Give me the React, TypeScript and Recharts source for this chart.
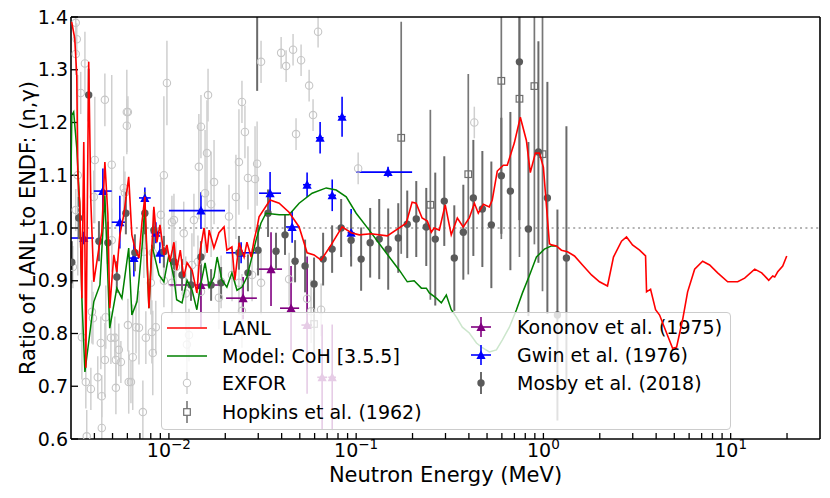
import React from 'react';
import { ScatterChart, Scatter, XAxis, YAxis, ErrorBar, ReferenceLine, Label } from 'recharts';

// energies in MeV, ratio LANL / ENDF
type Pt = [number, number];
type ErrPt = [number, number, number];
type CrossPt = [number, number, number, number, number];

const lanl: Pt[] = [
  [0.003, 1.39], [0.00303, 1.389], [0.00314, 1.36], [0.00322, 1.29], [0.00326, 1.106], [0.0033, 1.068],
  [0.00334, 1.049], [0.00343, 0.867], [0.00351, 1.163], [0.00356, 0.962], [0.0036, 0.735], [0.00373, 1.315],
  [0.00383, 1.049], [0.00397, 0.898], [0.00423, 0.962], [0.00438, 0.992], [0.00455, 1.125], [0.00472, 1.025],
  [0.00483, 0.848], [0.00508, 0.949], [0.00527, 0.917], [0.00547, 0.987], [0.00574, 1.025], [0.0061, 1.097],
  [0.00634, 0.987], [0.00658, 0.962], [0.00692, 0.943], [0.00718, 1.011], [0.00744, 1.059], [0.00782, 0.848],
  [0.00831, 1.04], [0.00863, 0.973], [0.00896, 1.006], [0.0094, 0.949], [0.00976, 0.968], [0.01012, 0.936],
  [0.01064, 0.973], [0.011, 0.92], [0.0115, 0.958],
  [0.012, 0.907], [0.0125, 0.934], [0.0133, 0.92], [0.0141, 0.877], [0.0147, 0.958], [0.0154, 1.0],
  [0.016, 0.953], [0.0164, 0.996], [0.0174, 0.962], [0.0185, 0.991], [0.0197, 1.002], [0.0204, 0.958],
  [0.0217, 0.964], [0.0225, 0.901], [0.0237, 0.972], [0.0252, 0.945], [0.0261, 0.973], [0.0275, 0.945],
  [0.0285, 0.977], [0.0296, 1.002], [0.0303, 1.021], [0.0347, 1.053], [0.0388, 1.047], [0.0438, 1.03],
  [0.0496, 1.002], [0.0547, 0.953], [0.0596, 0.949], [0.065, 0.939], [0.0735, 0.968], [0.0841, 1.002],
  [0.094, 0.991], [0.1038, 0.987], [0.12, 0.989], [0.1466, 0.985], [0.185, 1.009], [0.199, 1.049],
  [0.209, 1.047], [0.225, 1.019], [0.24, 1.013], [0.252, 0.992], [0.261, 1.0], [0.278, 0.996],
  [0.299, 1.044], [0.322, 0.987], [0.347, 1.019], [0.373, 1.002], [0.402, 1.019], [0.428, 1.047],
  [0.449, 1.028], [0.478, 1.045], [0.514, 1.04], [0.533, 1.053], [0.567, 1.108], [0.611, 1.119],
  [0.641, 1.119], [0.699, 1.161], [0.753, 1.21], [0.811, 1.166], [0.851, 1.105], [0.906, 1.142],
  [0.952, 1.142], [1.0, 1.115], [1.077, 0.97], [1.104, 0.968], [1.173, 0.966], [1.248, 0.958],
  [1.344, 0.955], [1.465, 0.947], [1.617, 0.93], [1.806, 0.911], [1.993, 0.898], [2.199, 0.89],
  [2.367, 0.945], [2.613, 0.975], [2.779, 0.983], [2.991, 0.968], [3.263, 0.958], [3.512, 0.947],
  [3.555, 0.879], [3.735, 0.884], [3.972, 0.845], [4.173, 0.835], [4.548, 0.801], [4.897, 0.772],
  [5.143, 0.774], [5.538, 0.826], [5.89, 0.879], [6.422, 0.922], [7.085, 0.937], [7.722, 0.93],
  [8.521, 0.915], [9.638, 0.898], [10.9, 0.898], [11.88, 0.905], [13.44, 0.922], [14.65, 0.915],
  [15.58, 0.905], [15.97, 0.901], [16.77, 0.909], [17.19, 0.907], [17.84, 0.917], [18.97, 0.928],
  [19.93, 0.947],
];

const coh: Pt[] = [
  [0.003, 1.1], [0.00303, 1.214], [0.0031, 1.22], [0.00322, 1.152], [0.00334, 1.044], [0.00343, 0.867],
  [0.00356, 0.727], [0.00397, 0.86], [0.00428, 0.892], [0.00455, 1.062], [0.00483, 0.81], [0.00527, 0.886],
  [0.00561, 0.867], [0.0061, 0.962], [0.00634, 0.835], [0.00675, 0.86], [0.00718, 0.962], [0.00744, 1.044],
  [0.00782, 0.848], [0.00811, 0.968], [0.00885, 0.911], [0.0094, 0.898], [0.01, 0.949], [0.01064, 0.905],
  [0.011, 0.864], [0.01175, 0.858], [0.0125, 0.901], [0.0133, 0.882], [0.0141, 0.845], [0.0147, 0.888],
  [0.0156, 0.934], [0.0164, 0.888], [0.0174, 0.907], [0.0181, 0.945], [0.0192, 0.901], [0.0204, 0.888],
  [0.0217, 0.915], [0.0231, 0.882], [0.0246, 0.888], [0.0261, 0.907], [0.0275, 0.939], [0.0292, 0.977],
  [0.031, 1.009], [0.033, 1.028], [0.0388, 1.025], [0.0438, 1.025], [0.0496, 1.047], [0.0582, 1.066],
  [0.0692, 1.076], [0.0782, 1.072], [0.0885, 1.059], [0.1, 1.028], [0.1174, 0.996], [0.1445, 0.953],
  [0.17, 0.92], [0.1875, 0.898], [0.204, 0.9], [0.223, 0.886], [0.237, 0.886], [0.246, 0.877],
  [0.268, 0.867], [0.285, 0.858], [0.303, 0.873], [0.322, 0.845], [0.343, 0.831], [0.369, 0.812],
  [0.402, 0.801], [0.439, 0.782], [0.472, 0.773], [0.514, 0.765], [0.561, 0.769], [0.604, 0.788],
  [0.658, 0.812], [0.718, 0.845], [0.773, 0.877], [0.842, 0.91], [0.918, 0.945], [1.012, 0.96],
  [1.104, 0.966], [1.173, 0.966],
];

// [energy, ratio, y error]
const exfor: ErrPt[] = [
  [0.00318, 1.389, 0.05], [0.00322, 1.358, 0.03], [0.00318, 1.33, 0.04], [0.00356, 1.312, 0.06],
  [0.00338, 1.256, 0.04], [0.00455, 1.243, 0.05], [0.00596, 1.22, 0.08], [0.00604, 1.22, 0.03],
  [0.00596, 1.194, 0.05], [0.00326, 1.1, 0.19], [0.00402, 1.129, 0.12], [0.00495, 1.12, 0.17],
  [0.00574, 1.076, 0.06], [0.00582, 1.067, 0.04], [0.00397, 1.059, 0.05], [0.00318, 1.034, 0.04],
  [0.0094, 1.1, 0.15], [0.00976, 1.275, 0.08], [0.00906, 1.025, 0.07], [0.01038, 1.011, 0.05],
  [0.01445, 1.116, 0.1], [0.01483, 1.192, 0.06], [0.01618, 1.252, 0.05], [0.0156, 1.066, 0.12],
  [0.01597, 1.142, 0.1], [0.01742, 1.087, 0.08], [0.0168, 1.045, 0.1], [0.02094, 1.022, 0.06],
  [0.0228, 1.059, 0.08], [0.02366, 1.125, 0.1], [0.02455, 1.239, 0.04], [0.02547, 1.182, 0.05],
  [0.02643, 1.095, 0.06], [0.02884, 1.093, 0.1], [0.02958, 1.122, 0.08], [0.03105, 1.315, 0.04],
  [0.03975, 1.332, 0.03], [0.04603, 1.338, 0.03], [0.04226, 1.307, 0.03], [0.0508, 1.318, 0.03],
  [0.06261, 1.372, 0.03], [0.05608, 1.27, 0.03], [0.05886, 1.214, 0.03], [0.04775, 1.178, 0.03],
  [0.1025, 1.113, 0.03], [0.4276, 1.2, 0.03],
  [0.00307, 0.926, 0.04], [0.00343, 0.793, 0.08], [0.0036, 0.708, 0.05], [0.00383, 0.695, 0.04],
  [0.00388, 0.841, 0.06], [0.00393, 0.829, 0.05], [0.00417, 0.717, 0.04], [0.00433, 0.782, 0.05],
  [0.00438, 0.681, 0.04], [0.00438, 0.621, 0.05], [0.0046, 0.831, 0.06], [0.0049, 0.792, 0.05],
  [0.00521, 0.75, 0.05], [0.0054, 0.769, 0.05], [0.00455, 0.75, 0.07], [0.00514, 0.792, 0.04],
  [0.00521, 0.697, 0.05], [0.00554, 0.746, 0.04], [0.00604, 0.816, 0.05], [0.0061, 0.708, 0.06],
  [0.00627, 0.708, 0.04], [0.00641, 0.755, 0.1], [0.00667, 0.812, 0.05], [0.00692, 0.811, 0.07],
  [0.00726, 0.651, 0.06], [0.00753, 0.792, 0.05], [0.00811, 0.803, 0.06], [0.0082, 0.763, 0.08],
  [0.00851, 0.812, 0.05], [0.00801, 0.896, 0.06], [0.0094, 0.9, 0.05], [0.01038, 0.896, 0.06],
  [0.0109, 0.926, 0.05], [0.0123, 0.876, 0.07], [0.0128, 0.797, 0.05], [0.01248, 0.779, 0.06],
  [0.01327, 0.93, 0.06], [0.01429, 0.936, 0.05], [0.01483, 0.879, 0.06], [0.019, 0.898, 0.05],
  [0.0185, 0.868, 0.06], [0.02173, 0.911, 0.05], [0.02366, 0.896, 0.06], [0.02455, 0.843, 0.07],
  [0.0278, 0.911, 0.05], [0.03105, 0.896, 0.06], [0.04385, 0.903, 0.05], [0.05468, 0.866, 0.06],
  [0.05744, 0.842, 0.06], [0.06498, 0.845, 0.05],
  [0.0082, 0.953, 0.05], [0.0094, 0.958, 0.06], [0.01064, 1.015, 0.05], [0.012, 0.99, 0.06],
  [0.0136, 1.015, 0.05], [0.00495, 0.977, 0.06], [0.00735, 0.955, 0.05], [0.00364, 0.605, 0.05],
];

const hopkins: ErrPt[] = [
  [0.0596, 0.818, 0.06], [0.174, 1.171, 0.22], [0.249, 1.044, 0.18], [0.397, 1.102, 0.19],
  [0.596, 1.279, 0.3], [0.745, 1.245, 0.3], [0.895, 1.269, 0.3], [0.989, 1.14, 0.26],
];

// [energy, ratio, energy low, energy high, y error]
const kononov: CrossPt[] = [
  [0.01483, 0.892, 0.01, 0.0185, 0.08], [0.0249, 0.867, 0.0202, 0.0295, 0.04],
  [0.0351, 0.922, 0.0295, 0.0402, 0.07], [0.0449, 0.848, 0.0392, 0.0496, 0.08],
  [0.0547, 0.816, 0.051, 0.058, 0.13], [0.0658, 0.717, 0.062, 0.07, 0.1],
  [0.0745, 0.717, 0.071, 0.078, 0.1],
];

const gwin: CrossPt[] = [
  [0.00351, 0.981, 0.003, 0.00397, 0.012], [0.00444, 1.07, 0.00397, 0.00495, 0.043],
  [0.00547, 1.011, 0.00495, 0.00589, 0.05], [0.0065, 0.943, 0.0061, 0.00692, 0.035],
  [0.00744, 1.057, 0.00692, 0.008, 0.02], [0.00852, 0.991, 0.008, 0.00906, 0.02],
  [0.00895, 0.953, 0.0087, 0.0093, 0.02], [0.01483, 1.033, 0.01, 0.01994, 0.035],
  [0.0243, 0.953, 0.0202, 0.0292, 0.02], [0.0347, 1.066, 0.0303, 0.0397, 0.04],
  [0.0455, 1.002, 0.0412, 0.0496, 0.03], [0.0547, 1.082, 0.052, 0.0575, 0.023],
  [0.0642, 1.171, 0.061, 0.067, 0.03], [0.0745, 1.062, 0.071, 0.078, 0.03],
  [0.0841, 1.211, 0.08, 0.088, 0.038], [0.094, 0.991, 0.09, 0.098, 0.045],
  [0.148, 1.106, 0.1, 0.199, 0.01],
];

const mosby: ErrPt[] = [
  [0.00303, 0.935, 0.04], [0.0033, 1.019, 0.04], [0.00373, 1.252, 0.05], [0.00423, 0.975, 0.038],
  [0.00472, 0.972, 0.04], [0.00527, 0.907, 0.03], [0.00589, 1.028, 0.04], [0.00658, 0.953, 0.035],
  [0.00744, 1.028, 0.04], [0.00831, 0.996, 0.038], [0.0094, 0.955, 0.03], [0.01064, 0.936, 0.03],
  [0.01175, 0.911, 0.03], [0.01312, 0.892, 0.03], [0.01483, 0.945, 0.03], [0.0168, 0.892, 0.03],
  [0.019, 0.896, 0.03], [0.02366, 0.953, 0.032], [0.02643, 0.915, 0.035], [0.02993, 0.958, 0.048],
  [0.0296, 1.52, 0.26], [0.03384, 1.028, 0.045], [0.03733, 0.956, 0.035], [0.04169, 0.987, 0.038],
  [0.04718, 0.937, 0.04], [0.05336, 0.928, 0.05], [0.05959, 0.894, 0.05], [0.06661, 0.941, 0.05],
  [0.07441, 0.96, 0.045], [0.08315, 1.0, 0.055], [0.094, 0.977, 0.05], [0.1063, 0.941, 0.06],
  [0.1188, 0.972, 0.066], [0.1328, 0.979, 0.076], [0.1483, 0.96, 0.077], [0.1678, 0.981, 0.066],
  [0.1874, 1.007, 0.064], [0.2094, 1.017, 0.072], [0.2368, 1.002, 0.074], [0.2645, 0.979, 0.126],
  [0.2955, 1.051, 0.085], [0.3343, 0.943, 0.1], [0.3735, 0.992, 0.09], [0.4225, 1.057, 0.11],
  [0.472, 1.036, 0.11], [0.5272, 1.006, 0.12], [0.5962, 1.099, 0.11], [0.6662, 1.07, 0.15],
  [0.7443, 1.315, 0.3], [0.8316, 0.998, 0.165], [0.9403, 1.144, 0.21], [1.05, 1.057, 0.22],
  [1.188, 0.835, 0.2], [1.327, 0.943, 0.25],
];

const xTicks = [
  0.004, 0.005, 0.006, 0.007, 0.008, 0.009,
  0.01, 0.02, 0.03, 0.04, 0.05, 0.06, 0.07, 0.08, 0.09,
  0.1, 0.2, 0.3, 0.4, 0.5, 0.6, 0.7, 0.8, 0.9,
  1, 2, 3, 4, 5, 6, 7, 8, 9, 10, 20,
];
const yTicks = [0.6, 0.7, 0.8, 0.9, 1.0, 1.1, 1.2, 1.3, 1.4];

const X_DOMAIN = [0.003, 30];
const Y_MIN = 0.6;
const Y_MAX = 1.4;

// error bars are cut at the frame, like the axes clip in the original
const clipDy = (r: number, dy: number) => [Math.min(dy, r - Y_MIN), Math.min(dy, Y_MAX - r)];

const toLine = (pts: Pt[]) => pts.map(([e, r]) => ({ e, r }));
const toErr = (pts: ErrPt[]) => pts.map(([e, r, dy]) => ({ e, r, dy: clipDy(r, dy) }));
const toCross = (pts: CrossPt[]) =>
  pts.map(([e, r, lo, hi, dy]) => ({ e, r, dy: clipDy(r, dy), dx: [e - lo, hi - e] }));

const FONT = 'DejaVu Sans';

const tri = (cx: number, cy: number) => `M${cx},${cy - 4.8} L${cx + 4.6},${cy + 4} L${cx - 4.6},${cy + 4} Z`;

const OpenCircle = (p: any) => <circle cx={p.cx} cy={p.cy} r={3.7} fill="none" stroke="#c6c6c6" strokeWidth={1.1} />;
const Dot = (p: any) => <circle cx={p.cx} cy={p.cy} r={3.7} fill="#5a5a5a" />;
const Square = (p: any) => <rect x={p.cx - 3.3} y={p.cy - 3.3} width={6.6} height={6.6} fill="none" stroke="#6e6e6e" strokeWidth={1.2} />;
const PurpleTri = (p: any) => <path d={tri(p.cx, p.cy)} fill="#800080" />;
const BlueTri = (p: any) => <path d={tri(p.cx, p.cy)} fill="#0000ff" />;
const NoMark = () => <g />;

const XTick = (props: any) => {
  const { x, y, payload } = props;
  const lg = Math.log10(payload.value);
  const exp = Math.round(lg);
  if (Math.abs(lg - exp) > 1e-6) return <g />;
  const sup = (exp < 0 ? '\u2212' : '') + Math.abs(exp);
  return (
    <text x={x} y={y} textAnchor="middle" fill="#000" fontSize={19} fontFamily={FONT}>
      <tspan>10</tspan>
      <tspan dy={-8} fontSize={13.5}>{sup}</tspan>
    </text>
  );
};

const LegendBox = () => {
  const t = { fontSize: 19, fontFamily: FONT, fill: '#000' } as const;
  return (
    <div style={{
      position: 'absolute', left: 161, top: 312, width: 570, height: 118, boxSizing: 'border-box',
      background: 'rgba(255,255,255,0.8)', border: '1px solid #cccccc', borderRadius: 4,
    }}>
      <svg width={570} height={118} style={{ position: 'absolute', left: -1, top: -1, overflow: 'visible' }}>
        <line x1={6} x2={46} y1={16} y2={16} stroke="#ff0000" strokeWidth={1.6} />
        <text x={61} y={23} {...t}>LANL</text>
        <line x1={6} x2={46} y1={44} y2={44} stroke="#008000" strokeWidth={1.5} />
        <text x={61} y={51} {...t}>Model: CoH [3.5.5]</text>
        <line x1={26} x2={26} y1={60} y2={82} stroke="#cfcfcf" strokeWidth={1.5} />
        <circle cx={26} cy={71} r={3.7} fill="#fff" stroke="#c6c6c6" strokeWidth={1.1} />
        <text x={61} y={78} {...t}>EXFOR</text>
        <line x1={26} x2={26} y1={89} y2={111} stroke="#777" strokeWidth={1.6} />
        <rect x={22.7} y={96.7} width={6.6} height={6.6} fill="#fff" stroke="#6e6e6e" strokeWidth={1.2} />
        <text x={61} y={107} {...t}>Hopkins et al. (1962)</text>

        <line x1={310} x2={330} y1={15} y2={15} stroke="#800080" strokeWidth={1.6} />
        <line x1={320} x2={320} y1={5} y2={25} stroke="#800080" strokeWidth={1.6} />
        <path d={tri(320, 15)} fill="#800080" />
        <text x={356} y={22} {...t}>Kononov et al. (1975)</text>
        <line x1={310} x2={330} y1={43} y2={43} stroke="#0000ff" strokeWidth={1.6} />
        <line x1={320} x2={320} y1={33} y2={53} stroke="#0000ff" strokeWidth={1.6} />
        <path d={tri(320, 43)} fill="#0000ff" />
        <text x={356} y={50} {...t}>Gwin et al. (1976)</text>
        <line x1={320} x2={320} y1={60} y2={82} stroke="#6a6a6a" strokeWidth={2} />
        <circle cx={320} cy={71} r={3.7} fill="#5a5a5a" />
        <text x={356} y={78} {...t}>Mosby et al. (2018)</text>
      </svg>
    </div>
  );
};

export default function App() {
  const axisLine = { stroke: '#000', strokeWidth: 1.6 };
  const tickLine = { stroke: '#000', strokeWidth: 1.3 };
  return (
    <div style={{ position: 'absolute', left: 0, top: 0, width: 830, height: 498, background: '#fff', fontFamily: FONT }}>
      <ScatterChart width={830} height={498} margin={{ top: 16, right: 9, bottom: 0, left: 0 }}>
        <XAxis
          dataKey="e" type="number" scale="log" domain={X_DOMAIN} allowDataOverflow
          ticks={xTicks} interval={0} tick={<XTick />} tickSize={-6} tickMargin={24}
          height={59} axisLine={axisLine} tickLine={tickLine}
        >
          <Label content={() => (
            <text x={445.5} y={482} textAnchor="middle" fontSize={21} fontFamily={FONT} fill="#000">Neutron Energy (MeV)</text>
          )} />
        </XAxis>
        <XAxis
          xAxisId="top" orientation="top" type="number" scale="log" domain={X_DOMAIN} allowDataOverflow
          ticks={xTicks} interval={0} tick={false} tickSize={-6} height={1} axisLine={axisLine} tickLine={tickLine}
        />
        <YAxis
          dataKey="r" type="number" domain={[Y_MIN, Y_MAX]} allowDataOverflow ticks={yTicks} interval={0}
          tickFormatter={(v: number) => v.toFixed(1)} tick={{ fontSize: 19, fill: '#000', fontFamily: FONT }}
          tickSize={-7} tickMargin={10} width={71} axisLine={axisLine} tickLine={tickLine}
        >
          <Label content={() => (
            <text x={28} y={228} transform="rotate(-90 28 228)" textAnchor="middle" dominantBaseline="central"
              fontSize={21} fontFamily={FONT} fill="#000">Ratio of LANL to ENDF: (n,γ)</text>
          )} />
        </YAxis>
        <YAxis
          yAxisId="right" orientation="right" type="number" domain={[Y_MIN, Y_MAX]} allowDataOverflow
          ticks={yTicks} interval={0} tick={false} tickSize={-7} width={1} axisLine={axisLine} tickLine={tickLine}
        />

        <ReferenceLine y={1} stroke="#b4b4b4" strokeWidth={2} strokeDasharray="2 3.4" />

        <Scatter data={toErr(exfor)} shape={OpenCircle} isAnimationActive={false}>
          <ErrorBar dataKey="dy" direction="y" width={0} stroke="#cfcfcf" strokeWidth={1.5} />
        </Scatter>
        <Scatter data={toErr(hopkins)} shape={Square} isAnimationActive={false}>
          <ErrorBar dataKey="dy" direction="y" width={0} stroke="#777777" strokeWidth={1.7} />
        </Scatter>
        <Scatter data={toCross(kononov)} shape={PurpleTri} isAnimationActive={false}>
          <ErrorBar dataKey="dy" direction="y" width={0} stroke="#800080" strokeWidth={1.6} />
          <ErrorBar dataKey="dx" direction="x" width={0} stroke="#800080" strokeWidth={1.6} />
        </Scatter>
        <Scatter data={toCross(gwin)} shape={BlueTri} isAnimationActive={false}>
          <ErrorBar dataKey="dy" direction="y" width={0} stroke="#0000ff" strokeWidth={1.6} />
          <ErrorBar dataKey="dx" direction="x" width={0} stroke="#0000ff" strokeWidth={1.6} />
        </Scatter>
        <Scatter data={toErr(mosby)} shape={Dot} isAnimationActive={false}>
          <ErrorBar dataKey="dy" direction="y" width={0} stroke="#6a6a6a" strokeWidth={2} />
        </Scatter>

        <Scatter data={toLine(coh)} shape={NoMark} line={{ stroke: '#008000', strokeWidth: 1.5 }} isAnimationActive={false} />
      </ScatterChart>
      <LegendBox />
      {/* the LANL curve sits above the legend frame in the original */}
      <div style={{ position: 'absolute', left: 0, top: 0, pointerEvents: 'none' }}>
        <ScatterChart width={830} height={498} margin={{ top: 17, right: 10, bottom: 59, left: 71 }}>
          <XAxis dataKey="e" type="number" scale="log" domain={X_DOMAIN} allowDataOverflow hide />
          <YAxis dataKey="r" type="number" domain={[Y_MIN, Y_MAX]} allowDataOverflow hide />
          <Scatter data={toLine(lanl)} shape={NoMark} line={{ stroke: '#ff0000', strokeWidth: 1.6 }} isAnimationActive={false} />
        </ScatterChart>
      </div>
    </div>
  );
}
